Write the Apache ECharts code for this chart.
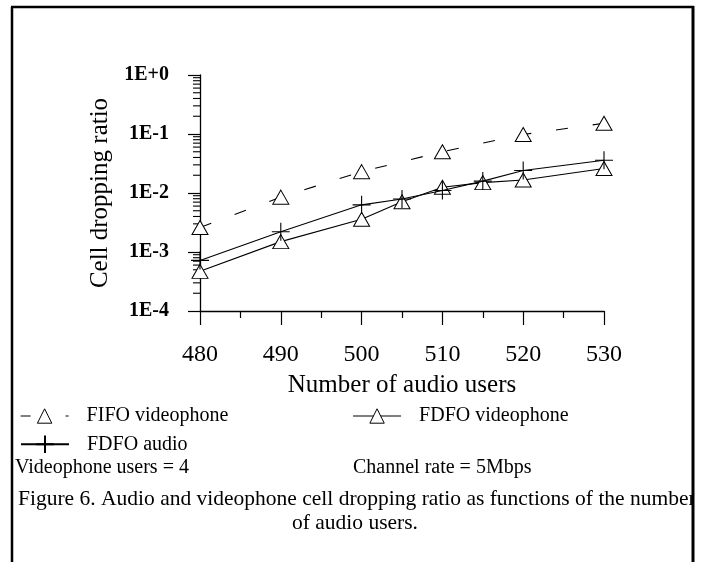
<!DOCTYPE html>
<html>
<head>
<meta charset="utf-8">
<script src="https://cdn.jsdelivr.net/npm/echarts@6/dist/echarts.min.js"></script>
<style>
html,body{margin:0;padding:0;background:#fff;}
#chart{width:703px;height:562px;}
</style>
</head>
<body>
<div id="chart"></div>
<script>
// ---- data ----
const fifoX = [480, 490, 500, 510, 520, 530];
const fifoVideo = [0.0026, 0.0085, 0.023, 0.05, 0.098, 0.152];
const fdfoX = [480, 490, 500, 505, 510, 515, 520, 530];
const fdfoVideo = [0.00047, 0.0015, 0.0036, 0.0071, 0.0125, 0.015, 0.0166, 0.026];
const fdfoAudio = [0.00072, 0.0022, 0.0063, 0.0079, 0.011, 0.0159, 0.024, 0.036];
const xTicks = [480, 490, 500, 510, 520, 530];
const yTickLabels = {'-4': '1E-4', '-3': '1E-3', '-2': '1E-2', '-1': '1E-1', '0': '1E+0'};
const minorMantissas = [2, 3, 4, 5, 6, 7, 8, 9];
const decades = [1e-4, 1e-3, 1e-2, 1e-1];
const seriesNames = ['FIFO videophone', 'FDFO videophone', 'FDFO audio'];
const noteLeft = 'Videophone users = 4';
const noteRight = 'Channel rate = 5Mbps';
const caption1 = 'Figure 6. Audio and videophone cell dropping ratio as functions of the number';
const caption2 = 'of audio users.';

const FONT = 'Liberation Serif';
const crossPath = 'path://M0,9L18,9M9,0L9,18';

const minorData = [];
decades.forEach(d => minorMantissas.forEach(m => minorData.push([xTicks[0], m * d])));

const chart = echarts.init(document.getElementById('chart'), null, {renderer: 'canvas'});
const option = {
  backgroundColor: '#fff',
  animation: false,
  grid: {left: 200, right: 99, top: 75, bottom: 251, containLabel: false},
  xAxis: {
    type: 'value', min: 480, max: 530, interval: 10,
    name: 'Number of audio users', nameLocation: 'middle', nameGap: 62,
    nameTextStyle: {fontFamily: FONT, fontSize: 25, color: '#000'},
    axisLine: {show: true, lineStyle: {color: '#000', width: 1.3}},
    axisTick: {show: true, length: 14, lineStyle: {color: '#000', width: 1.2}},
    minorTick: {show: true, splitNumber: 2, length: 7, lineStyle: {color: '#000', width: 1.2}},
    splitLine: {show: false},
    axisLabel: {margin: 32, fontFamily: FONT, fontSize: 24, color: '#000'}
  },
  yAxis: {
    type: 'log', logBase: 10, min: 1e-4, max: 1, splitNumber: 4,
    name: 'Cell dropping ratio', nameLocation: 'middle', nameGap: 86,
    nameTextStyle: {fontFamily: FONT, fontSize: 25, color: '#000'},
    axisLine: {show: true, lineStyle: {color: '#000', width: 1.3}},
    axisTick: {show: true, length: 12, lineStyle: {color: '#000', width: 1.2}},
    splitLine: {show: false},
    axisLabel: {
      margin: 31, fontFamily: FONT, fontSize: 20, fontWeight: 'bold', color: '#000',
      formatter: v => yTickLabels[String(Math.round(Math.log10(v)))] || ''
    }
  },
  legend: [
    {
      left: 15, top: 401, orient: 'horizontal', itemWidth: 48, itemHeight: 18, itemGap: 124,
      data: [
        {name: seriesNames[0], lineStyle: {type: [10, 35], width: 1.2}, itemStyle: {borderWidth: 1}},
        {name: seriesNames[1], lineStyle: {width: 1.6, color: '#555'}, itemStyle: {borderWidth: 1}}
      ],
      textStyle: {fontFamily: FONT, fontSize: 20, color: '#000', padding: [8, 0, 0, 13]},
      selectedMode: false
    },
    {
      left: 15, top: 428, orient: 'horizontal', itemWidth: 48, itemHeight: 22,
      data: [{name: seriesNames[2]}],
      textStyle: {fontFamily: FONT, fontSize: 20, color: '#000', padding: [4, 0, 0, 13]},
      selectedMode: false
    }
  ],
  series: [
    {
      name: seriesNames[0], type: 'line',
      data: fifoX.map((x, i) => [x, fifoVideo[i]]),
      symbol: 'triangle', symbolSize: [16, 14], showAllSymbol: true,
      lineStyle: {color: '#000', width: 1.1, type: [12, 25]},
      itemStyle: {color: '#fff', borderColor: '#000', borderWidth: 1},
      z: 3
    },
    {
      name: seriesNames[1], type: 'line',
      data: fdfoX.map((x, i) => [x, fdfoVideo[i]]),
      symbol: 'triangle', symbolSize: [16, 14], showAllSymbol: true,
      lineStyle: {color: '#000', width: 1.1},
      itemStyle: {color: '#fff', borderColor: '#000', borderWidth: 1},
      z: 3
    },
    {
      name: seriesNames[2], type: 'line',
      data: fdfoX.map((x, i) => [x, fdfoAudio[i]]),
      symbol: crossPath, symbolSize: 18, showAllSymbol: true,
      lineStyle: {color: '#000', width: 1.1},
      itemStyle: {color: 'none', borderColor: '#000', borderWidth: 1.1},
      z: 4
    },
    {
      name: 'minorTicks', type: 'custom', clip: false, silent: true,
      data: minorData,
      encode: {x: 0, y: 1},
      renderItem: (params, api) => {
        const p = api.coord([api.value(0), api.value(1)]);
        return {type: 'line', shape: {x1: p[0] - 7, y1: p[1], x2: p[0], y2: p[1]},
                style: {stroke: '#000', lineWidth: 1.1}};
      },
      z: 2
    }
  ],
  graphic: [
    {type: 'text', left: 15, top: 458, style: {text: noteLeft, fontFamily: FONT, fontSize: 20, fill: '#000'}},
    {type: 'text', left: 353, top: 458, style: {text: noteRight, fontFamily: FONT, fontSize: 20, fill: '#000'}},
    {type: 'text', left: 18, top: 488, style: {text: caption1, fontFamily: FONT, fontSize: 21.5, fill: '#000'}},
    {type: 'text', left: 292, top: 512, style: {text: caption2, fontFamily: FONT, fontSize: 21.5, fill: '#000'}},
    {type: 'rect', shape: {x: 693, y: 0, width: 10, height: 562}, style: {fill: '#fff'}, z: 90},
    {type: 'line', shape: {x1: 12, y1: 7, x2: 12, y2: 562}, style: {stroke: '#000', lineWidth: 2.5}, z: 100},
    {type: 'line', shape: {x1: 11, y1: 7, x2: 694, y2: 7}, style: {stroke: '#000', lineWidth: 2.5}, z: 100},
    {type: 'line', shape: {x1: 693, y1: 6, x2: 693, y2: 562}, style: {stroke: '#000', lineWidth: 3}, z: 100}
  ]
};
chart.setOption(option);
</script>
</body>
</html>
